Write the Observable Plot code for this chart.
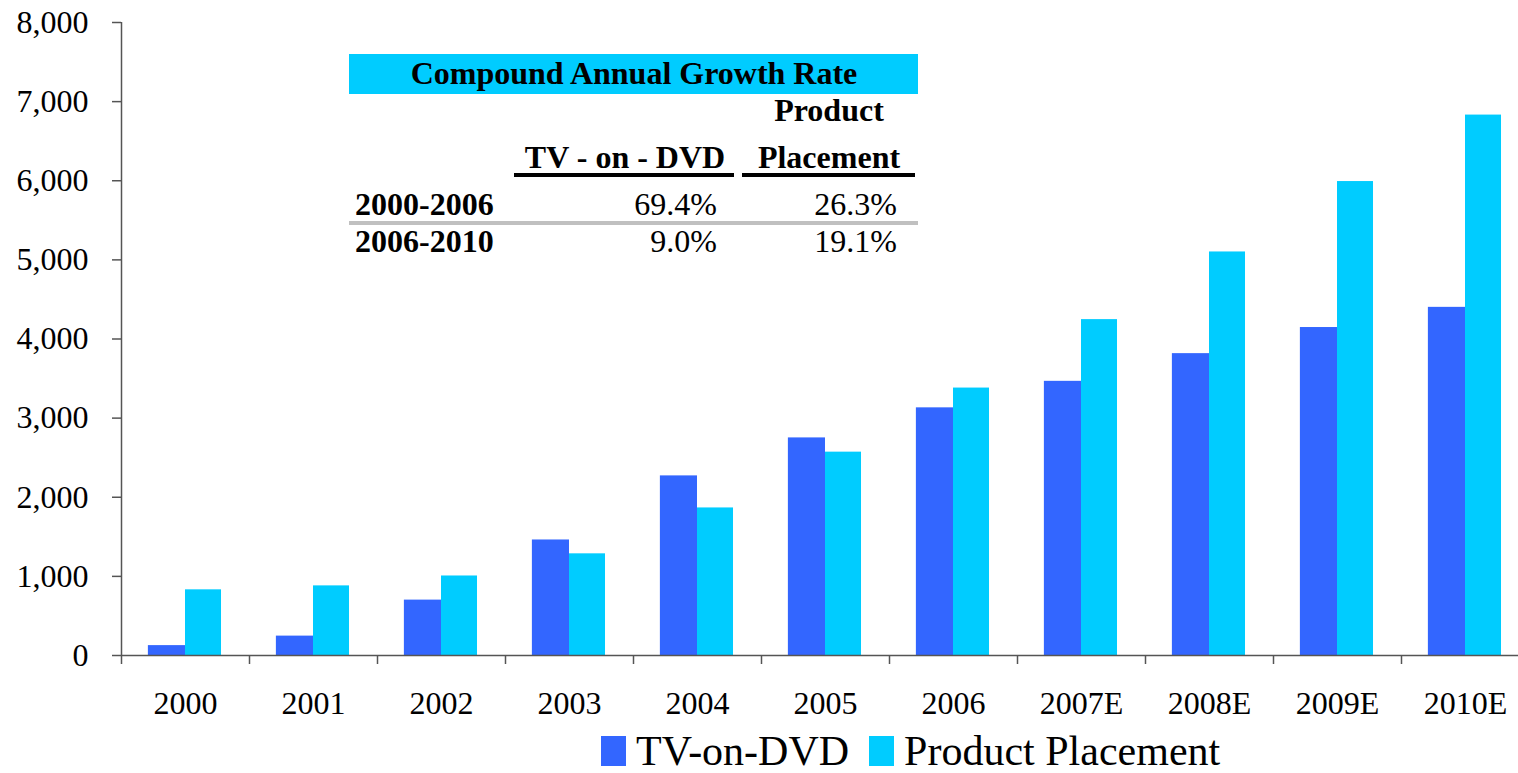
<!DOCTYPE html>
<html>
<head>
<meta charset="utf-8">
<script src="https://cdn.jsdelivr.net/npm/d3@7"></script>
<script src="https://cdn.jsdelivr.net/npm/@observablehq/plot@0.6"></script>
<style>
  html, body { margin: 0; padding: 0; background: #fff; overflow: hidden; }
  #wrap { position: relative; width: 1518px; height: 773px; overflow: hidden; font-family: "Liberation Serif", "Times New Roman", serif; }
  #chart { position: absolute; left: 0; top: 0; }
  #cagr { position: absolute; left: 0; top: 0; }
  #legend { position: absolute; left: 601px; top: 730px; display: flex; align-items: center; font-size: 42px; line-height: 42px; color: #000; white-space: nowrap; }
  #legend .sw { display: inline-block; width: 25px; height: 30px; margin-right: 10px; }
  #legend .item { display: flex; align-items: center; margin-right: 20px; }
</style>
</head>
<body>
<div id="wrap">
  <div id="chart"></div>
  <svg id="cagr" width="1518" height="300"></svg>
  <div id="legend"></div>
</div>
<script>
// ---- data ----
const years = ["2000", "2001", "2002", "2003", "2004", "2005", "2006", "2007E", "2008E", "2009E", "2010E"];
const tvOnDvd = [125, 245, 700, 1460, 2270, 2750, 3130, 3465, 3815, 4145, 4400];
const productPlacement = [830, 880, 1005, 1285, 1865, 2570, 3380, 4245, 5100, 5990, 6830];
const seriesNames = ["TV-on-DVD", "Product Placement"];
const seriesColors = ["#3366FF", "#00CCFF"];
const yTicks = [0, 1000, 2000, 3000, 4000, 5000, 6000, 7000, 8000];

const cagrTitle = "Compound Annual Growth Rate";
const cagrPeriods = ["2000-2006", "2006-2010"];
const cagrTV = ["69.4%", "9.0%"];
const cagrPP = ["26.3%", "19.1%"];

// ---- chart ----
const tvRows = years.map((year, i) => ({i, year, v: tvOnDvd[i]}));
const ppRows = years.map((year, i) => ({i, year, v: productPlacement[i]}));
const barW = 0.29;

const chart = Plot.plot({
  width: 1518,
  height: 722,
  marginTop: 22,
  marginBottom: 67,
  marginLeft: 121,
  marginRight: 0,
  style: {fontFamily: "'Liberation Serif', 'Times New Roman', serif", fontSize: "32px", color: "#000", background: "transparent", overflow: "visible"},
  x: {domain: [0, years.length], range: [121, 121 + 128 * years.length], axis: null},
  y: {domain: [0, 8000], axis: null},
  marks: [
    Plot.rect(tvRows, {x1: d => d.i + 0.5 - barW, x2: d => d.i + 0.5, y1: 0, y2: "v", fill: seriesColors[0]}),
    Plot.rect(ppRows, {x1: d => d.i + 0.5, x2: d => d.i + 0.5 + barW * 0.97, y1: 0, y2: "v", fill: seriesColors[1]}),
    Plot.axisY({ticks: yTicks, tickFormat: d3.format(","), tickSize: 9, tickPadding: 24, stroke: "#555", fill: "#000", strokeWidth: 1.5, label: null}),
    Plot.axisX({ticks: d3.range(0, years.length + 1), tickFormat: () => "", tickSize: 9, stroke: "#555", strokeWidth: 1.5, label: null}),
    Plot.axisX({ticks: years.map((_, i) => i + 0.5), tickFormat: v => years[Math.floor(v)], tickSize: 0, tickPadding: 36, fill: "#000", label: null}),
    Plot.ruleX([0], {stroke: "#555", strokeWidth: 1.5}),
    Plot.ruleY([0], {stroke: "#555", strokeWidth: 1.5})
  ]
});
document.getElementById("chart").append(chart);

// ---- CAGR table overlay ----
const svg = d3.select("#cagr");
const F = "'Liberation Serif', 'Times New Roman', serif";
svg.append("rect").attr("x", 349).attr("y", 54).attr("width", 569).attr("height", 40).attr("fill", seriesColors[1]);
function txt(x, y, s, anchor, bold) {
  svg.append("text").attr("x", x).attr("y", y).attr("text-anchor", anchor)
    .attr("font-family", F).attr("font-size", 32).attr("font-weight", bold ? "bold" : "normal")
    .attr("fill", "#000").text(s);
}
txt(634, 84, cagrTitle, "middle", true);
txt(829, 121, "Product", "middle", true);
txt(625, 168, "TV - on - DVD", "middle", true);
txt(829, 168, "Placement", "middle", true);
svg.append("rect").attr("x", 514).attr("y", 173).attr("width", 220).attr("height", 4).attr("fill", "#000");
svg.append("rect").attr("x", 742).attr("y", 173).attr("width", 173).attr("height", 4).attr("fill", "#000");
svg.append("rect").attr("x", 349).attr("y", 221).attr("width", 569).attr("height", 4).attr("fill", "#c0c0c0");
const rowBase = [215, 252];
cagrPeriods.forEach((p, r) => {
  txt(355, rowBase[r], p, "start", true);
  txt(717, rowBase[r], cagrTV[r], "end", false);
  txt(897, rowBase[r], cagrPP[r], "end", false);
});

// ---- legend ----
const legend = d3.select("#legend");
seriesNames.forEach((name, k) => {
  const it = legend.append("div").attr("class", "item");
  it.append("span").attr("class", "sw").style("background", seriesColors[k]);
  it.append("span").text(name);
});
</script>
</body>
</html>
